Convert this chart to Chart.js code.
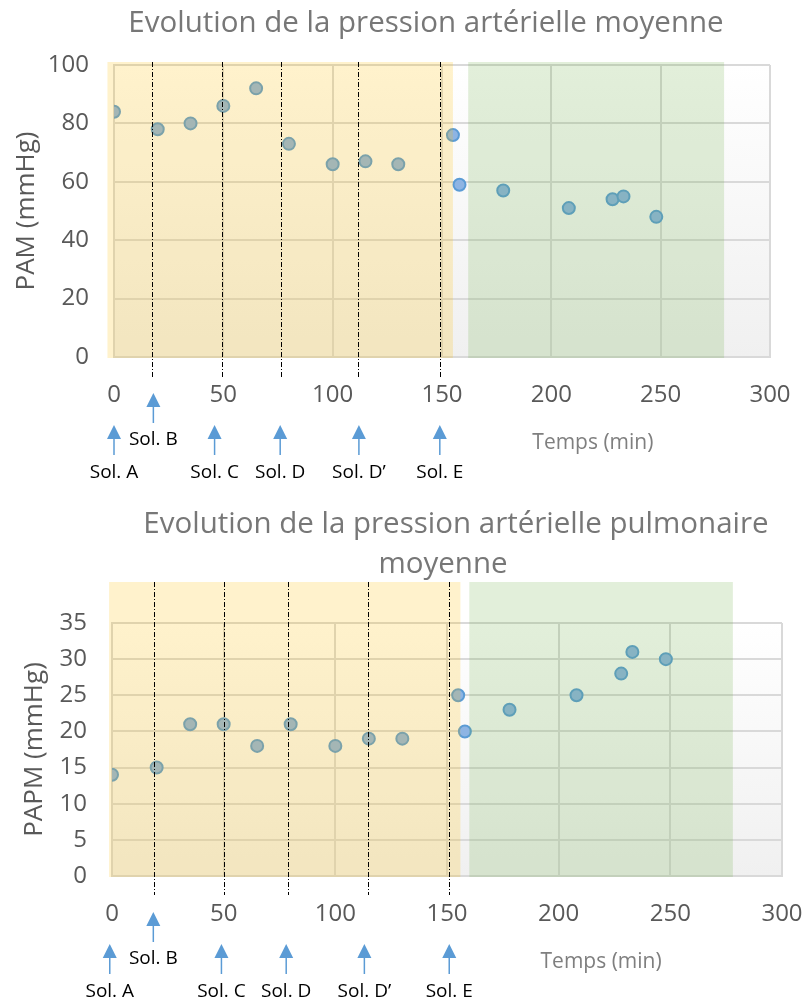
<!DOCTYPE html>
<html lang="fr">
<head>
<meta charset="utf-8">
<title>Evolution de la pression artérielle</title>
<script src="https://cdn.jsdelivr.net/npm/chart.js@4/dist/chart.umd.min.js"></script>
<style>
  html, body { margin: 0; padding: 0; background: #fff; }
  body { position: relative; width: 806px; height: 1003px; overflow: hidden; font-family: "Open Sans", sans-serif; }
  canvas { position: absolute; left: 0; }
  .titre { position: absolute; color: #777; font-size: 29.5px; line-height: 30px; white-space: nowrap; transform: translateX(-50%); }
</style>
</head>
<body>
<canvas id="pam" width="806" height="490" style="top:0"></canvas>
<canvas id="papm" width="806" height="508" style="top:495px"></canvas>
<div class="titre" style="left:426px; top:6px">Evolution de la pression artérielle moyenne</div>
<div class="titre" style="left:456px; top:507px">Evolution de la pression artérielle pulmonaire</div>
<div class="titre" style="left:443px; top:547px">moyenne</div>
<script>
// temps des mesures (min), communs aux deux courbes
const temps = [0, 20, 35, 50, 65, 80, 100, 115, 130, 155, 158, 178, 208, 228, 233, 248];
// pression artérielle moyenne (mmHg)
const pam = [84, 78, 80, 86, 92, 73, 66, 67, 66, 76, 59, 57, 51, 54, 55, 48];
// pression artérielle pulmonaire moyenne (mmHg)
const papm = [14, 15, 21, 21, 18, 21, 18, 19, 19, 25, 20, 23, 25, 28, 31, 30];

// injections des solutions
const solutions = ['Sol. A', 'Sol. B', 'Sol. C', 'Sol. D', 'Sol. D\u2019', 'Sol. E'];
const solDecalee = [false, true, false, false, false, false];
const pamInjections = [0, 18, 46, 76, 112, 149];
const papmInjections = [-1, 18.5, 49, 78, 113, 151];
// traits pointillés
const pamReperes = [17.5, 49.5, 76.5, 111.5, 149];
const papmReperes = [19, 50, 79, 114.5, 151];
// phases [début, fin] en min
const pamPhases = [[-3, 155], [162, 279]];
const papmPhases = [[-1.3, 156], [160, 278]];

const GRIS = '#595959';
const GRILLE = '#d9d9d9';
const PHASES_COULEURS = ['rgba(255,192,0,0.2)', 'rgba(112,173,71,0.2)'];

const decor = {
  id: 'decor',
  beforeDraw(chart) {
    const { ctx, chartArea: a } = chart;
    const g = ctx.createLinearGradient(0, a.top, 0, a.bottom);
    g.addColorStop(0, '#ffffff');
    g.addColorStop(1, '#f0f0f0');
    ctx.save();
    ctx.fillStyle = g;
    ctx.fillRect(a.left, a.top, a.right - a.left, a.bottom - a.top);
    ctx.restore();
  },
  afterDatasetsDraw(chart, args, o) {
    const { ctx, chartArea: a, scales: { x } } = chart;
    const haut = a.top - o.debordHaut;
    ctx.save();
    // phases colorées par-dessus la grille et les points
    o.phases.forEach((p, i) => {
      const x0 = x.getPixelForValue(p[0]);
      const x1 = x.getPixelForValue(p[1]);
      ctx.fillStyle = PHASES_COULEURS[i];
      ctx.fillRect(x0, haut, x1 - x0, a.bottom + 1 - haut);
    });
    // traits mixtes aux injections
    ctx.strokeStyle = '#000';
    ctx.lineWidth = 1;
    ctx.setLineDash([5, 2, 1, 2]);
    o.reperes.forEach(t => {
      const px = Math.round(x.getPixelForValue(t)) + 0.5;
      ctx.beginPath();
      ctx.moveTo(px, haut);
      ctx.lineTo(px, a.bottom + o.debordBas);
      ctx.stroke();
    });
    ctx.restore();
  },
  afterDraw(chart, args, o) {
    const { ctx, chartArea: a, scales: { x } } = chart;
    ctx.save();
    ctx.textAlign = 'center';
    ctx.textBaseline = 'middle';
    o.injections.forEach((t, i) => {
      const px = x.getPixelForValue(t);
      const y0 = a.bottom + (solDecalee[i] ? 36 : 68);
      ctx.fillStyle = '#5b9bd5';
      ctx.strokeStyle = '#5b9bd5';
      ctx.beginPath();
      ctx.moveTo(px, y0);
      ctx.lineTo(px - 7, y0 + 14);
      ctx.lineTo(px + 7, y0 + 14);
      ctx.closePath();
      ctx.fill();
      ctx.lineWidth = 1.5;
      ctx.beginPath();
      ctx.moveTo(px, y0 + 13);
      ctx.lineTo(px, y0 + 30);
      ctx.stroke();
      ctx.fillStyle = '#000';
      ctx.font = '19px "Open Sans"';
      ctx.fillText(solutions[i], px, a.bottom + (solDecalee[i] ? 83 : 116));
    });
    ctx.fillStyle = '#7f7f7f';
    ctx.font = '21px "Open Sans"';
    ctx.fillText('Temps (min)', x.getPixelForValue(219), a.bottom + 86);
    ctx.restore();
  }
};

function creerGraphe(id, o) {
  const points = temps.map((t, i) => ({ x: t, y: o.valeurs[i] }));
  const police = { family: '"Open Sans"', size: 24 };
  return new Chart(document.getElementById(id), {
    type: 'scatter',
    data: {
      datasets: [{
        data: points,
        backgroundColor: '#8eb4e3',
        borderColor: '#5b9bd5',
        borderWidth: 2,
        pointRadius: 6,
        pointHoverRadius: 6
      }]
    },
    options: {
      responsive: false,
      animation: false,
      devicePixelRatio: 1,
      layout: { padding: { left: 0, right: o.droite, top: o.haut, bottom: 0 } },
      plugins: {
        legend: { display: false },
        tooltip: { enabled: false },
        decor: {
          phases: o.phases,
          reperes: o.reperes,
          injections: o.injections,
          debordHaut: o.debordHaut,
          debordBas: o.debordBas
        }
      },
      scales: {
        x: {
          type: 'linear',
          min: 0,
          max: 300,
          ticks: { stepSize: 50, padding: 24, color: GRIS, font: police },
          grid: { color: GRILLE, lineWidth: 2, drawTicks: false },
          border: { color: GRILLE, width: 2 },
          afterFit: s => {
            s.height = o.basAxe;
            // la marge droite est fixée par layout.padding
            s.paddingLeft = 0;
            s.paddingRight = 0;
          }
        },
        y: {
          min: 0,
          max: o.yMax,
          ticks: { stepSize: o.yPas, padding: 25, color: GRIS, font: police },
          grid: { color: GRILLE, lineWidth: 2, drawTicks: false },
          border: { color: GRILLE, width: 2 },
          title: {
            display: true,
            text: o.titreY,
            color: GRIS,
            font: { family: '"Open Sans"', size: 26 },
            padding: { top: o.titrePad, bottom: 0 }
          },
          afterFit: s => { s.width = o.gauche; }
        }
      }
    },
    plugins: [decor]
  });
}

creerGraphe('pam', {
  valeurs: pam, yMax: 100, yPas: 20, titreY: 'PAM (mmHg)',
  phases: pamPhases, reperes: pamReperes, injections: pamInjections,
  gauche: 114, droite: 36, haut: 65, basAxe: 133, titrePad: 11.4,
  debordHaut: 3, debordBas: 21
});

creerGraphe('papm', {
  valeurs: papm, yMax: 35, yPas: 5, titreY: 'PAPM (mmHg)',
  phases: papmPhases, reperes: papmReperes, injections: papmInjections,
  gauche: 112, droite: 24, haut: 128, basAxe: 127, titrePad: 19.4,
  debordHaut: 41, debordBas: 19
});
</script>
</body>
</html>
